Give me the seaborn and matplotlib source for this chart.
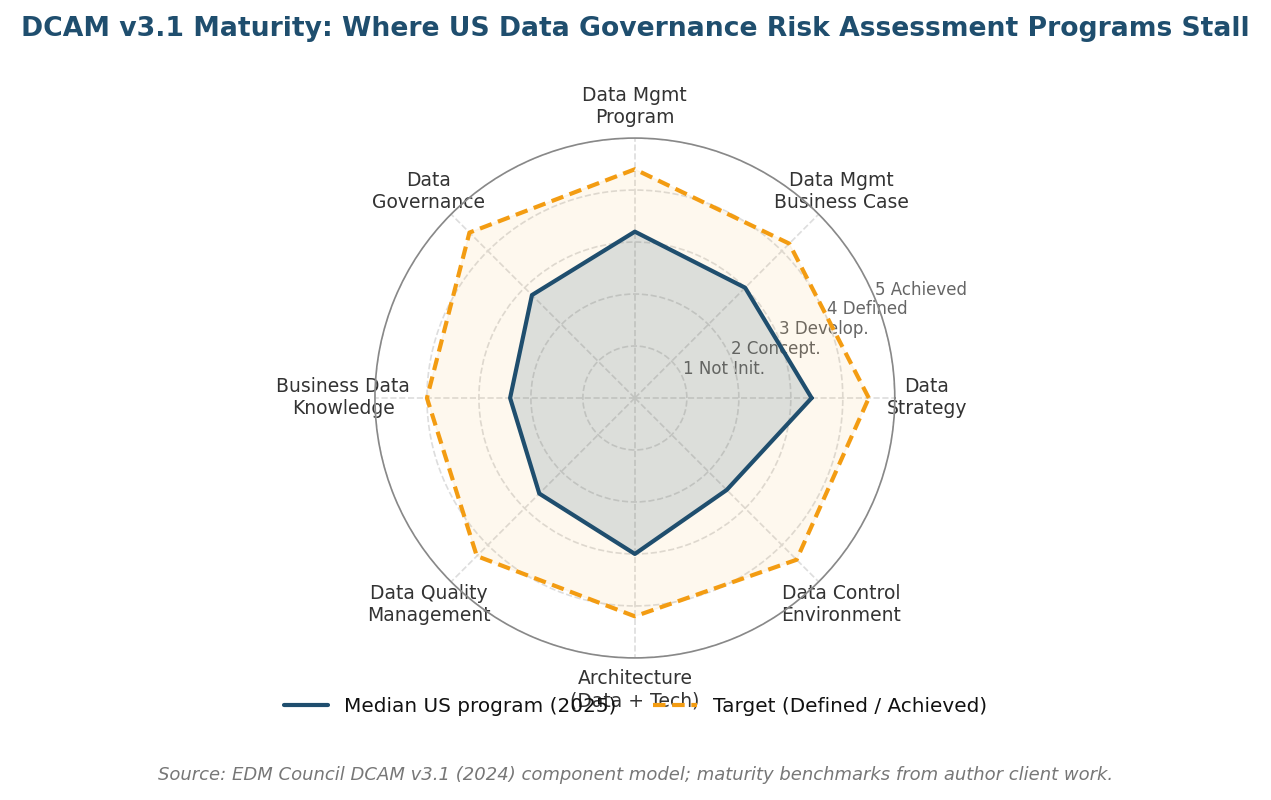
import numpy as np
import pandas as pd
import seaborn as sns
import matplotlib.pyplot as plt

# DCAM components, counter-clockwise from the right
components = ["Data\nStrategy", "Data Mgmt\nBusiness Case", "Data Mgmt\nProgram",
              "Data\nGovernance", "Business Data\nKnowledge", "Data Quality\nManagement",
              "Architecture\n(Data + Tech)", "Data Control\nEnvironment"]
median_2025 = [3.4, 3.0, 3.2, 2.8, 2.4, 2.6, 3.0, 2.5]
target = [4.5, 4.2, 4.4, 4.5, 4.0, 4.3, 4.2, 4.4]
levels = [1, 2, 3, 4, 5]
level_labels = ["1 Not Init.", "2 Concept.", "3 Develop.", "4 Defined", "5 Achieved"]

BLUE = "#1f4e6e"
ORANGE = "#f39c12"

sns.set_theme(style="white")
plt.rcParams['font.family'] = ['DejaVu Sans']

angles = np.linspace(0, 2 * np.pi, len(components), endpoint=False)
closed = np.append(angles, angles[0])
df = pd.DataFrame({
    "theta": np.concatenate([closed, closed]),
    "score": median_2025 + median_2025[:1] + target + target[:1],
    "series": ["Median US program (2025)"] * len(closed) + ["Target (Defined / Achieved)"] * len(closed),
})

fig = plt.figure(figsize=(12.71, 8), dpi=100)
ax = fig.add_axes([0.295, 0.1775, 0.409, 0.65], projection="polar")

tgt = df[df.series.str.startswith("Target")]
med = df[df.series.str.startswith("Median")]
ax.fill(tgt.theta, tgt.score, color=ORANGE, alpha=0.07, zorder=1)
ax.fill(med.theta, med.score, color=BLUE, alpha=0.15, zorder=2)
sns.lineplot(data=df, x="theta", y="score", hue="series", style="series",
             palette=[BLUE, ORANGE], dashes=[(None, None), (3, 1.6)],
             sort=False, estimator=None, lw=3, ax=ax, legend=False, zorder=3)

ax.set_ylim(0, 5)
ax.set_yticks(levels)
ax.set_yticklabels(level_labels, fontsize=12, color="#666666")
ax.set_rlabel_position(22.5)
ax.set_xticks(angles)
ax.set_xticklabels(components, fontsize=13.5, color="#333333")
ax.tick_params(axis="x", pad=10)
ax.grid(True, color="#dddddd", linestyle="--", linewidth=1.2)
ax.spines["polar"].set_color("#888888")
ax.spines["polar"].set_linewidth(1.2)
ax.set_xlabel("")
ax.set_ylabel("")

handles = [plt.Line2D([], [], color=BLUE, lw=3),
           plt.Line2D([], [], color=ORANGE, lw=3, linestyle=(0, (3, 1.6)))]
fig.legend(handles=handles, labels=["Median US program (2025)", "Target (Defined / Achieved)"],
           loc="center", bbox_to_anchor=(0.5, 0.1175), ncol=2, frameon=False, fontsize=14.4,
           handlelength=2.2, columnspacing=1.8, labelcolor="#111111")

fig.suptitle("DCAM v3.1 Maturity: Where US Data Governance Risk Assessment Programs Stall",
             fontsize=19.2, fontweight="bold", color=BLUE, y=0.98)
fig.text(0.5, 0.031, "Source: EDM Council DCAM v3.1 (2024) component model; maturity benchmarks from author client work.",
         ha="center", va="center", fontsize=13, style="italic", color="#777777")

fig.savefig("out.png", dpi=100)
